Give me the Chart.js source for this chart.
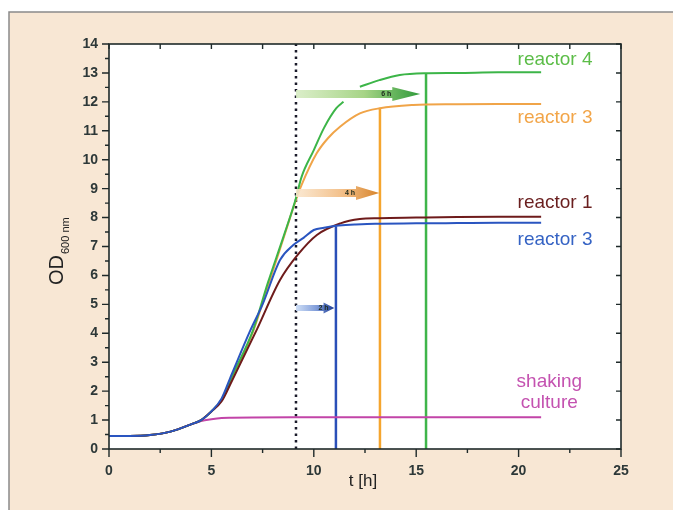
<!DOCTYPE html>
<html>
<head>
<meta charset="utf-8">
<script src="https://cdn.jsdelivr.net/npm/chart.js@4.4.0/dist/chart.umd.min.js"></script>
<style>
  html, body { margin: 0; padding: 0; background: #fff; }
</style>
</head>
<body>
<canvas id="odChart" width="673" height="510"></canvas>
<script>
// growth curves (t in h, OD600)
const r4Time = [0, 1, 2, 3, 4, 4.5, 5, 5.5, 6, 7.03, 7.76, 8.5, 9.1, 9.4, 10, 10.5, 11.1, 11.45, 11.8, 12.25, 13.2, 14.2, 15.4, 17, 19, 21.1];
const r4OD   = [0.45, 0.45, 0.48, 0.6, 0.85, 1.0, 1.3, 1.7, 2.5, 4.1, 5.75, 7.3, 8.6, 9.4, 10.33, 11.1, 11.78, 12.0, null, 12.52, 12.75, 12.93, 12.99, 13.0, 13.02, 13.02];

const r3Time = [0, 1, 2, 3, 4, 4.5, 5, 5.5, 6, 7.03, 7.76, 8.5, 9.1, 9.4, 10.14, 10.7, 11.28, 12.25, 13.23, 14.85, 17, 19, 21.1];
const r3OD   = [0.45, 0.45, 0.48, 0.6, 0.85, 1.0, 1.3, 1.7, 2.45, 4.05, 5.63, 7.24, 8.55, 9.12, 10.22, 10.75, 11.14, 11.6, 11.78, 11.89, 11.92, 11.93, 11.93];

const r1Time = [0, 1, 2, 3, 4, 4.5, 5, 5.5, 6, 7.2, 8.35, 9.2, 10.15, 11.3, 12.25, 13.2, 15, 17, 19, 21.1];
const r1OD   = [0.45, 0.45, 0.48, 0.6, 0.85, 1.0, 1.3, 1.65, 2.35, 4.1, 5.84, 6.7, 7.4, 7.8, 7.95, 7.98, 8.0, 8.02, 8.03, 8.03];

const r2Time = [0, 1, 2, 3, 4, 4.5, 5, 5.5, 6, 6.9, 7.5, 8.35, 9.0, 9.5, 10.0, 10.5, 11.1, 12, 13, 15, 17, 19, 21.1];
const r2OD   = [0.45, 0.45, 0.48, 0.6, 0.85, 1.0, 1.3, 1.75, 2.6, 4.1, 5.0, 6.53, 7.05, 7.3, 7.57, 7.65, 7.72, 7.76, 7.79, 7.8, 7.81, 7.82, 7.82];

const shakeTime = [0, 1, 2, 3, 4, 4.5, 5, 5.5, 6, 7, 9, 12, 15, 18, 21.1];
const shakeOD   = [0.45, 0.45, 0.48, 0.6, 0.85, 0.97, 1.03, 1.07, 1.08, 1.09, 1.1, 1.1, 1.1, 1.1, 1.1];

// induction time and end of growth per reactor
const inductionTime = 9.13;
const stopTime = [11.08, 13.23, 15.48];      // blue, orange, green
const stopOD   = [7.7, 11.8, 13.0];

// arrows: end time, OD level, text
const arrowEnd   = [15.2, 13.2, 11.0];
const arrowLevel = [12.27, 8.85, 4.87];
const arrowText  = ['6 h', '4 h', '2 h'];

const seriesLabels = ['reactor 4', 'reactor 3', 'reactor 1', 'reactor 3', 'shaking', 'culture'];
const labelTime = [21.78, 21.78, 21.78, 21.78, 21.5, 21.5];
const labelOD   = [13.45, 11.44, 8.5, 7.22, 2.32, 1.59];

const FONT = '"Liberation Sans", Arial, sans-serif';

function toPoints(ts, vs) {
  return ts.map((t, i) => ({ x: t, y: vs[i] }));
}

const curveStyle = {
  borderWidth: 2,
  pointRadius: 0,
  fill: false,
  cubicInterpolationMode: 'monotone',
  spanGaps: false
};

const vlineColors = ['#2a4fb8', '#f5a52e', '#3fb54a'];

const datasets = [
  Object.assign({ data: toPoints(r2Time, r2OD), borderColor: '#2a55c0' }, curveStyle),
  Object.assign({ data: toPoints(r1Time, r1OD), borderColor: '#6e1b1b' }, curveStyle),
  Object.assign({ data: toPoints(r4Time, r4OD), borderColor: '#3cb548' }, curveStyle),
  Object.assign({ data: toPoints(r3Time, r3OD), borderColor: '#f0a448' }, curveStyle),
  Object.assign({ data: toPoints(shakeTime, shakeOD), borderColor: '#c244a8' }, curveStyle)
];
stopTime.forEach((t, i) => {
  datasets.push({
    data: [{ x: t, y: 0 }, { x: t, y: stopOD[i] }],
    borderColor: vlineColors[i], borderWidth: 2.5, pointRadius: 0
  });
});
datasets.push({
  data: [{ x: inductionTime, y: 0 }, { x: inductionTime, y: 14 }],
  borderColor: '#1a1a2a', borderWidth: 2.5, borderDash: [2.5, 4], pointRadius: 0
});

const panelPlugin = {
  id: 'panel',
  beforeDraw(chart) {
    const ctx = chart.ctx, a = chart.chartArea;
    ctx.save();
    ctx.fillStyle = '#fff';
    ctx.fillRect(0, 0, chart.width, chart.height);
    ctx.fillStyle = '#f8e7d4';
    ctx.fillRect(9, 12, chart.width - 9, chart.height - 12);
    ctx.strokeStyle = '#8a8a8a';
    ctx.lineWidth = 1.5;
    ctx.beginPath();
    ctx.moveTo(9, chart.height);
    ctx.lineTo(9, 12);
    ctx.lineTo(chart.width, 12);
    ctx.stroke();
    ctx.fillStyle = '#fff';
    ctx.fillRect(a.left, a.top, a.right - a.left, a.bottom - a.top);
    ctx.restore();
  }
};

const colorsFrom = [
  ['rgba(215,236,195,0.9)', '#a6d486', '#2f9a3a'],
  ['rgba(250,230,205,0.9)', '#f3c08a', '#d7842a'],
  ['rgba(200,218,245,0.9)', '#7d9ad8', '#1b3a92']
];

const arrowPlugin = {
  id: 'arrows',
  afterDatasetsDraw(chart) {
    const ctx = chart.ctx, xs = chart.scales.x, ys = chart.scales.y;
    const x0 = xs.getPixelForValue(inductionTime);
    ctx.save();
    arrowEnd.forEach((t, i) => {
      const x1 = xs.getPixelForValue(t);
      const y = ys.getPixelForValue(arrowLevel[i]);
      const len = x1 - x0;
      const head = Math.min(28, len * 0.28);
      const shaft = i === 2 ? 6 : 8;
      const hh = i === 2 ? 11 : 14;
      const g = ctx.createLinearGradient(x0, 0, x1, 0);
      g.addColorStop(0, colorsFrom[i][0]);
      g.addColorStop(0.55, colorsFrom[i][1]);
      g.addColorStop(1, colorsFrom[i][2]);
      ctx.fillStyle = g;
      ctx.beginPath();
      ctx.moveTo(x0, y - shaft / 2);
      ctx.lineTo(x1 - head, y - shaft / 2);
      ctx.lineTo(x1 - head, y - hh / 2);
      ctx.lineTo(x1, y);
      ctx.lineTo(x1 - head, y + hh / 2);
      ctx.lineTo(x1 - head, y + shaft / 2);
      ctx.lineTo(x0, y + shaft / 2);
      ctx.closePath();
      ctx.fill();
      ctx.fillStyle = '#1c2a1c';
      ctx.font = 'bold 7px ' + FONT;
      ctx.textAlign = 'center';
      ctx.textBaseline = 'middle';
      ctx.fillText(arrowText[i], x1 - head - (i === 2 ? 0 : 6), y);
    });
    ctx.restore();
  }
};

const framePlugin = {
  id: 'frame',
  afterDraw(chart) {
    const ctx = chart.ctx, a = chart.chartArea, xs = chart.scales.x, ys = chart.scales.y;
    ctx.save();
    ctx.strokeStyle = '#1f2a2a';
    ctx.lineWidth = 1.6;
    ctx.strokeRect(a.left, a.top, a.right - a.left, a.bottom - a.top);
    ctx.lineWidth = 1.4;
    ctx.beginPath();
    for (let v = 0; v <= 14; v += 0.5) {
      const y = ys.getPixelForValue(v);
      const major = v % 1 === 0;
      ctx.moveTo(a.left, y);
      ctx.lineTo(a.left - (major ? 7 : 4), y);
      if (major) {
        ctx.moveTo(a.right, y);
        ctx.lineTo(a.right - 5, y);
      }
    }
    for (let t = 0; t <= 25; t += 2.5) {
      const x = xs.getPixelForValue(t);
      const major = t % 5 === 0;
      ctx.moveTo(x, a.bottom);
      ctx.lineTo(x, a.bottom + (major ? 8 : 4));
      ctx.moveTo(x, a.top);
      ctx.lineTo(x, a.top + 5);
    }
    ctx.stroke();

    // series labels
    const labelColors = ['#5cbd48', '#f2a548', '#6a1f1f', '#3563c4', '#c452b0', '#c452b0'];
    ctx.font = '19px ' + FONT;
    ctx.textAlign = 'center';
    ctx.textBaseline = 'middle';
    seriesLabels.forEach((s, i) => {
      ctx.fillStyle = labelColors[i];
      ctx.fillText(s, xs.getPixelForValue(labelTime[i]), ys.getPixelForValue(labelOD[i]));
    });

    // axis titles
    ctx.fillStyle = '#222';
    ctx.font = '17px ' + FONT;
    ctx.fillText('t [h]', 363, 481);
    ctx.translate(63, 285);
    ctx.rotate(-Math.PI / 2);
    ctx.textAlign = 'left';
    ctx.textBaseline = 'alphabetic';
    ctx.font = '20px ' + FONT;
    ctx.fillText('OD', 0, 0);
    ctx.font = '11px ' + FONT;
    ctx.fillText('600 nm', 31, 6);
    ctx.restore();
  }
};

new Chart(document.getElementById('odChart').getContext('2d'), {
  type: 'line',
  data: { datasets: datasets },
  options: {
    responsive: false,
    animation: false,
    devicePixelRatio: 1,
    layout: { padding: { left: 0, right: 52, top: 44, bottom: 0 } },
    plugins: { legend: { display: false }, tooltip: { enabled: false } },
    scales: {
      x: {
        type: 'linear', min: 0, max: 25,
        grid: { display: false, drawTicks: false },
        border: { display: false },
        ticks: { stepSize: 5, padding: 14, color: '#2d3838', font: { family: FONT, size: 14, weight: 'bold' } },
        afterFit(scale) { scale.height = 61; }
      },
      y: {
        type: 'linear', min: 0, max: 14,
        grid: { display: false, drawTicks: false },
        border: { display: false },
        ticks: { stepSize: 1, padding: 11, color: '#2d3838', font: { family: FONT, size: 14, weight: 'bold' } },
        afterFit(scale) { scale.width = 109; }
      }
    }
  },
  plugins: [panelPlugin, arrowPlugin, framePlugin]
});
</script>
</body>
</html>
